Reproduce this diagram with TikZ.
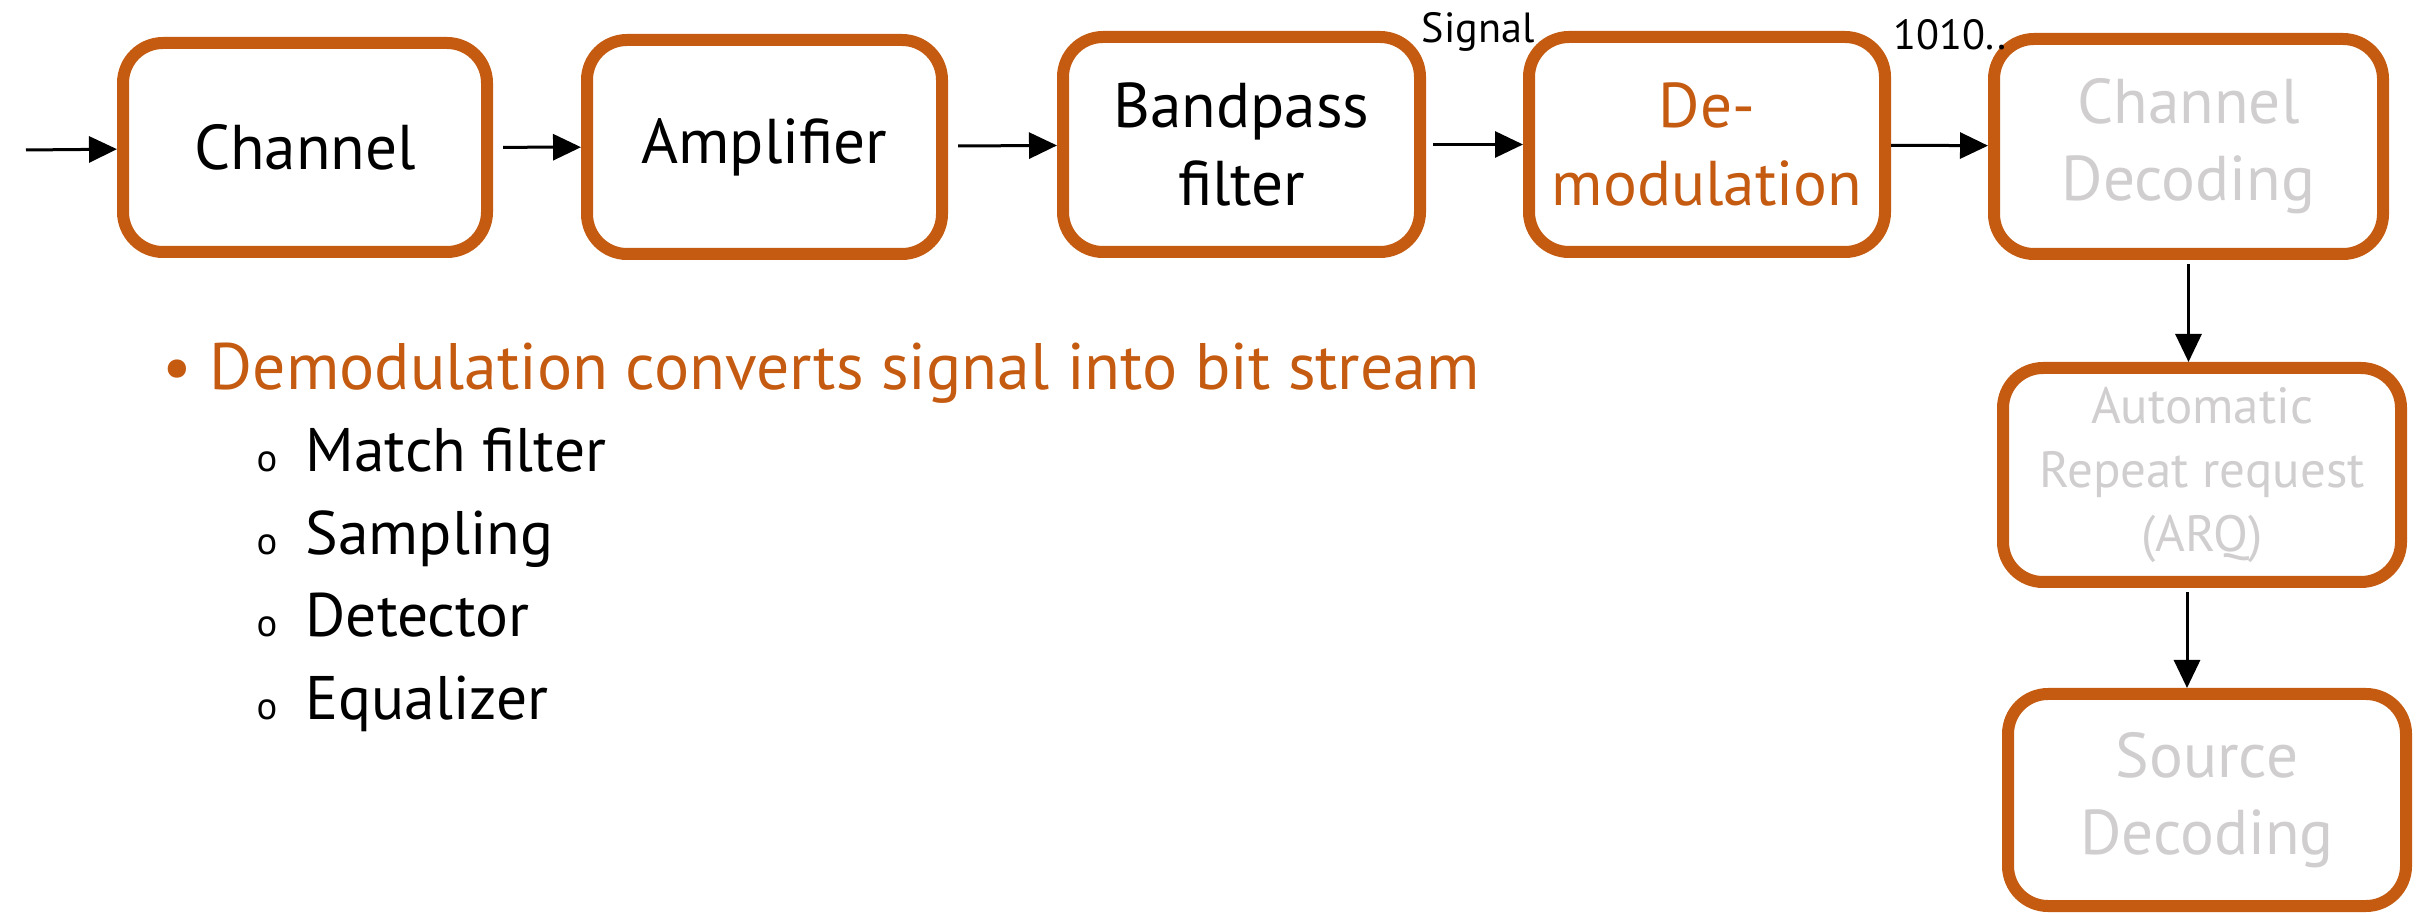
\documentclass[tikz,border=0pt]{standalone}
\usepackage{fontspec}
\setmainfont{PT Sans}
\usepackage{xcolor}
\usepackage{tikz}
\usetikzlibrary{arrows.meta, positioning}
\definecolor{blockorange}{RGB}{197, 90, 17}
\definecolor{fadedgrey}{RGB}{208, 206, 206}

\begin{document}
\begin{tikzpicture}[
          blockbox/.style={rectangle, rounded corners=0.4cm, draw=blockorange, line width=0.12cm, fill=white, align=center, font=\fontsize{18}{22}\selectfont},
          smallbox/.style={blockbox, font=\fontsize{14.5}{18.3}\selectfont},
          arrow/.style={-{Triangle[length=0.28cm, width=0.26cm]}, line width=0.03cm, draw=black},
          edgelabel/.style={anchor=base, font=\fontsize{12}{14}\selectfont},
          mainpoint/.style={anchor=base west, inner sep=0pt, text=blockorange, font=\fontsize{18.7}{23}\selectfont},
          subpoint/.style={anchor=base west, inner sep=0pt, font=\fontsize{17.5}{21}\selectfont}
        ]
          \useasboundingbox (0,0) rectangle (24.22,-9.13);

          % Receiver chain, left to right
          \node[blockbox, minimum width=3.64cm, minimum height=2.09cm] (chan) at (3.05,-1.475) {Channel};
          \node[blockbox, minimum width=3.55cm, minimum height=2.14cm] (amp) at (7.645,-1.47) {Amplifier};
          \node[blockbox, minimum width=3.57cm, minimum height=2.15cm] (bpf) at (12.415,-1.445) {Bandpass\\filter};
          \node[blockbox, minimum width=3.56cm, minimum height=2.15cm, text=blockorange] (demod) at (17.07,-1.445) {De-\\modulation};
          \node[blockbox, minimum width=3.89cm, minimum height=2.15cm, text=fadedgrey] (chdec) at (21.885,-1.465) {Channel\\Decoding};

          % Downward column
          \node[smallbox, minimum width=3.98cm, minimum height=2.14cm, text=fadedgrey] (arq) at (22.02,-4.75) {Automatic\\Repeat request\\(ARQ)};
          \node[blockbox, minimum width=3.98cm, minimum height=2.12cm, text=fadedgrey] (srcdec) at (22.07,-8.00) {Source\\Decoding};

          % Connections
          \coordinate (in) at (0.26,-1.50);
          \draw[arrow] (in) -- (chan);
          \draw[arrow, shorten <=0.1cm] (chan) -- (amp);
          \draw[arrow, shorten <=0.1cm] (amp) -- (bpf);
          \draw[arrow, shorten <=0.07cm] (bpf) -- (demod);
          \draw[arrow] (demod) -- (chdec);
          \draw[arrow, shorten <=0.04cm] (chdec.south) -- (chdec.south |- arq.north);
          \draw[arrow, shorten <=0.04cm] ([xshift=-0.15cm]arq.south) -- ([xshift=-0.15cm]arq.south |- srcdec.north);

          % Labels over the arrows
          \node[edgelabel] (siglabel) at (14.78,-0.43) {Signal};
          \node[edgelabel] (bitlabel) at (19.50,-0.50) {1010..};

          % Bullet text
          \node[mainpoint] (pt) at (1.62,-3.90) {\makebox[0.47cm][l]{•}Demodulation converts signal into bit stream};
          \node[subpoint] (sub1) at (2.56,-4.72) {\makebox[0.49cm][l]{\fontsize{11}{13}\selectfont o}Match filter};
          \node[subpoint] (sub2) at (2.56,-5.55) {\makebox[0.49cm][l]{\fontsize{11}{13}\selectfont o}Sampling};
          \node[subpoint] (sub3) at (2.56,-6.37) {\makebox[0.49cm][l]{\fontsize{11}{13}\selectfont o}Detector};
          \node[subpoint] (sub4) at (2.56,-7.20) {\makebox[0.49cm][l]{\fontsize{11}{13}\selectfont o}Equalizer};
        \end{tikzpicture}
\end{document}
